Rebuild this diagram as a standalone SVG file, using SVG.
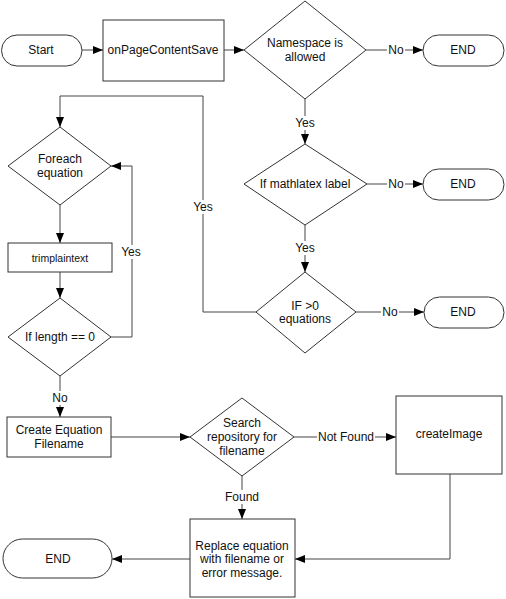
<svg xmlns="http://www.w3.org/2000/svg" width="506" height="599" viewBox="0 0 506 599">
<style>
.n{fill:#fff;stroke:#333;stroke-width:1}
.t{font-family:"Liberation Sans",Arial,sans-serif;font-size:12px;fill:#111;text-anchor:middle;dominant-baseline:central}
.s{font-size:10.5px}
.c{fill:none;stroke:#444;stroke-width:1}
.lb{font-family:"Liberation Sans",Arial,sans-serif;font-size:12px;fill:#111;text-anchor:middle;dominant-baseline:central}
</style>
<defs>
<marker id="a" viewBox="0 0 10 10" refX="10" refY="5" markerWidth="10" markerHeight="10" markerUnits="userSpaceOnUse" orient="auto">
<path d="M0,1 L10,5 L0,9 Z" fill="#000"/>
</marker>
</defs>
<rect width="506" height="599" fill="#fff"/>
<g id="connectors">
<line class="c" x1="82" y1="50" x2="103" y2="50" marker-end="url(#a)"/>
<line class="c" x1="224" y1="50" x2="244" y2="50" marker-end="url(#a)"/>
<line class="c" x1="366" y1="50" x2="423" y2="50" marker-end="url(#a)"/>
<line class="c" x1="305" y1="99" x2="305" y2="144" marker-end="url(#a)"/>
<line class="c" x1="367" y1="184" x2="423" y2="184" marker-end="url(#a)"/>
<line class="c" x1="305" y1="225" x2="305" y2="272" marker-end="url(#a)"/>
<line class="c" x1="356" y1="312" x2="424" y2="312" marker-end="url(#a)"/>
<polyline class="c" points="256,312 203,312 203,96 60,96 60,127" marker-end="url(#a)"/>
<line class="c" x1="60" y1="205" x2="60" y2="243" marker-end="url(#a)"/>
<line class="c" x1="60" y1="272" x2="60" y2="298" marker-end="url(#a)"/>
<polyline class="c" points="111,337 132,337 132,166 111,166" marker-end="url(#a)"/>
<line class="c" x1="60" y1="376" x2="60" y2="417" marker-end="url(#a)"/>
<line class="c" x1="111" y1="437" x2="190" y2="437" marker-end="url(#a)"/>
<line class="c" x1="294" y1="437" x2="396" y2="437" marker-end="url(#a)"/>
<line class="c" x1="242" y1="476" x2="242" y2="519" marker-end="url(#a)"/>
<polyline class="c" points="450,474 450,559 295,559" marker-end="url(#a)"/>
<line class="c" x1="190" y1="559" x2="112" y2="559" marker-end="url(#a)"/>
<rect x="387" y="43" width="18" height="14" fill="#fff"/>
<text class="lb" x="396" y="50">No</text>
<rect x="293" y="116" width="24" height="14" fill="#fff"/>
<text class="lb" x="305" y="123">Yes</text>
<rect x="387" y="177" width="18" height="14" fill="#fff"/>
<text class="lb" x="396" y="184">No</text>
<rect x="293" y="241" width="24" height="14" fill="#fff"/>
<text class="lb" x="305" y="248">Yes</text>
<rect x="381" y="305" width="18" height="14" fill="#fff"/>
<text class="lb" x="390" y="312">No</text>
<rect x="191" y="200" width="24" height="14" fill="#fff"/>
<text class="lb" x="203" y="207">Yes</text>
<rect x="119" y="245" width="24" height="14" fill="#fff"/>
<text class="lb" x="131" y="252">Yes</text>
<rect x="51" y="391" width="18" height="14" fill="#fff"/>
<text class="lb" x="60" y="398">No</text>
<rect x="317" y="430" width="58" height="14" fill="#fff"/>
<text class="lb" x="346" y="437">Not Found</text>
<rect x="224" y="490" width="36" height="14" fill="#fff"/>
<text class="lb" x="242" y="497">Found</text>
</g>
<g id="start">
<rect class="n" x="1.5" y="35" width="80.5" height="31" rx="15.5"/>
<text class="t" x="41" y="50">Start</text>
</g>
<g id="onPageContentSave">
<rect class="n" x="103" y="20" width="121" height="61"/>
<text class="t" x="163" y="50">onPageContentSave</text>
</g>
<g id="namespace">
<polygon class="n" points="305,1 366,50 305,99 244,50"/>
<text class="t" x="305" y="43">Namespace is</text>
<text class="t" x="305" y="57">allowed</text>
</g>
<g id="end1">
<rect class="n" x="423" y="35" width="81" height="31" rx="15.5"/>
<text class="t" x="463" y="50">END</text>
</g>
<g id="mathlatex">
<polygon class="n" points="305,144 367,184 305,225 244,184"/>
<text class="t" x="305" y="184">If mathlatex label</text>
</g>
<g id="end2">
<rect class="n" x="423" y="169" width="81" height="31" rx="15.5"/>
<text class="t" x="463" y="184">END</text>
</g>
<g id="ifgt0">
<polygon class="n" points="305,272 356,312 305,353 256,312"/>
<text class="t" x="305" y="306">IF &gt;0</text>
<text class="t" x="305" y="319">equations</text>
</g>
<g id="end3">
<rect class="n" x="424" y="297" width="80" height="31" rx="15.5"/>
<text class="t" x="463" y="312">END</text>
</g>
<g id="foreach">
<polygon class="n" points="60,127 111,166 60,205 8,166"/>
<text class="t" x="60" y="159">Foreach</text>
<text class="t" x="60" y="173">equation</text>
</g>
<g id="trimplaintext">
<rect class="n" x="8" y="243" width="104" height="29"/>
<text class="t s" x="60" y="258">trimplaintext</text>
</g>
<g id="iflength">
<polygon class="n" points="60,298 111,337 60,376 8,337"/>
<text class="t" x="60" y="337">If length == 0</text>
</g>
<g id="createfilename">
<rect class="n" x="7" y="417" width="104" height="40"/>
<text class="t" x="59" y="430">Create Equation</text>
<text class="t" x="59" y="444">Filename</text>
</g>
<g id="search">
<polygon class="n" points="242,398 294,437 242,476 190,437"/>
<text class="t" x="242" y="423">Search</text>
<text class="t" x="242" y="437">repository for</text>
<text class="t" x="242" y="451">filename</text>
</g>
<g id="createImage">
<rect class="n" x="396" y="396" width="106" height="78"/>
<text class="t" x="449" y="434">createImage</text>
</g>
<g id="replace">
<rect class="n" x="190" y="519" width="105" height="78"/>
<text class="t" x="242" y="546">Replace equation</text>
<text class="t" x="242" y="559">with filename or</text>
<text class="t" x="242" y="573">error message.</text>
</g>
<g id="end4">
<rect class="n" x="3" y="539" width="109" height="39" rx="19.5"/>
<text class="t" x="58" y="559">END</text>
</g>
</svg>
